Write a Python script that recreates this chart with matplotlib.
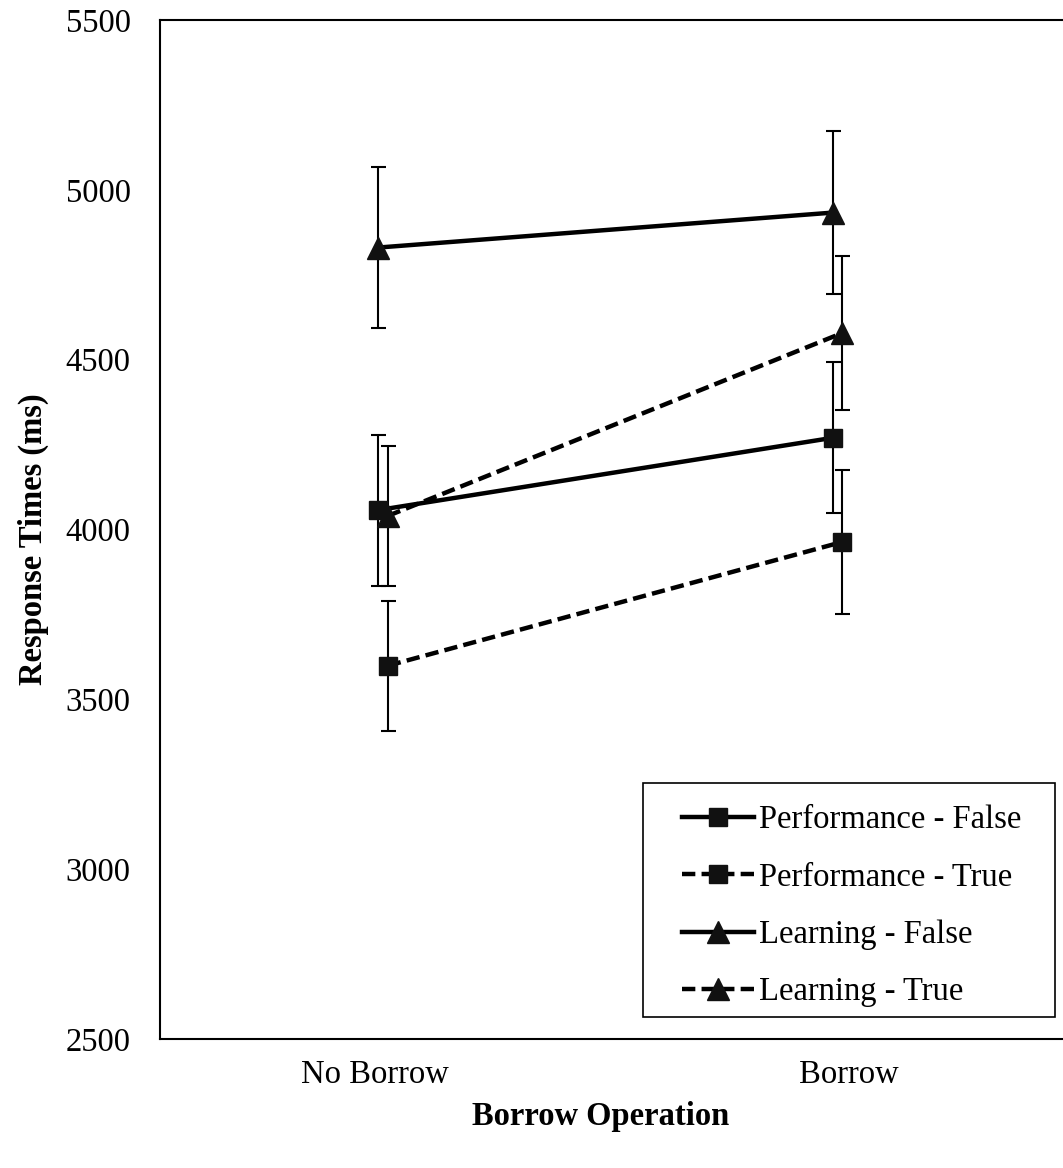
import numpy as np
import matplotlib
matplotlib.use("Agg")
import matplotlib.pyplot as plt
from matplotlib.patches import Rectangle

plt.rcParams["font.family"] = ["Liberation Serif", "DejaVu Serif"]

# ── Data ──────────────────────────────────────────────────────────────────────
categories = ["No Borrow", "Borrow"]

perf_false = [4057, 4270]
perf_false_err = [222, 222]
perf_true = [3599, 3963]
perf_true_err = [191, 212]
learn_false = [4830, 4933]
learn_false_err = [238, 240]
learn_true = [4040, 4578]
learn_true_err = [205, 226]

series = [
    ("Performance - False", perf_false, perf_false_err, "s", "-"),
    ("Performance - True", perf_true, perf_true_err, "s", "--"),
    ("Learning - False", learn_false, learn_false_err, "^", "-"),
    ("Learning - True", learn_true, learn_true_err, "^", "--"),
]

# small horizontal dodge so the error bars of solid/dashed series don't overlap
dodge = {"-": np.array([0.006, -0.034]), "--": np.array([0.027, -0.015])}

FS = 23.5
W, H = 1063, 1168

fig = plt.figure(figsize=(W / 100, H / 100), dpi=100)
ax = fig.add_axes([160 / W, (H - 1039) / H, 1 - 160 / W, (1039 - 20) / H])

x = np.arange(len(categories))
handles = []
for label, vals, errs, marker, ls in series:
    xs = x + dodge[ls]
    ax.errorbar(xs, vals, yerr=errs, fmt="none", ecolor="black",
                elinewidth=1.5, capsize=5.4, capthick=1.5, zorder=2)
    kw = dict(color="black", linewidth=3.2, marker=marker,
              markersize=13.5 if marker == "s" else 16, markerfacecolor="#111111",
              markeredgecolor="#111111", zorder=3, label=label)
    if ls == "--":
        kw["dashes"] = (3.0, 1.4)
    (ln,) = ax.plot(xs, vals, **kw)
    handles.append(ln)

ax.set_xlim(-0.4536, 1.4515)
ax.set_ylim(2500, 5500)
ax.set_yticks(np.arange(2500, 5501, 500))
ax.set_xticks(x)
ax.set_xticklabels(categories)
ax.tick_params(axis="both", length=0, labelsize=FS)
ax.tick_params(axis="y", pad=21)
ax.tick_params(axis="x", pad=15)

for side in ["left", "bottom", "top"]:
    ax.spines[side].set_linewidth(1.5)
ax.spines["right"].set_visible(False)

fig.text(33 / W, 1 - 539 / H, "Response Times (ms)", rotation=90,
         ha="center", va="center", fontsize=FS, fontweight="bold")
fig.text(601 / W, 1 - 1117 / H, "Borrow Operation",
         ha="center", va="center", fontsize=FS, fontweight="bold")

# legend box drawn separately so the padding can differ horizontally/vertically
fig.patches.append(Rectangle((643 / W, 1 - 1017 / H), (1055 - 643) / W,
                             (1017 - 783) / H, transform=fig.transFigure,
                             facecolor="white", edgecolor="black",
                             linewidth=1.2, zorder=5))
leg = fig.legend(handles=handles, loc="upper left",
                 bbox_to_anchor=(682 / W, 1 - 805 / H), frameon=False,
                 fontsize=FS, handlelength=2.2, handletextpad=0.15,
                 labelspacing=0.82, numpoints=1, borderpad=0, borderaxespad=0)
leg.set_zorder(6)

fig.savefig("out.png", dpi=100)
